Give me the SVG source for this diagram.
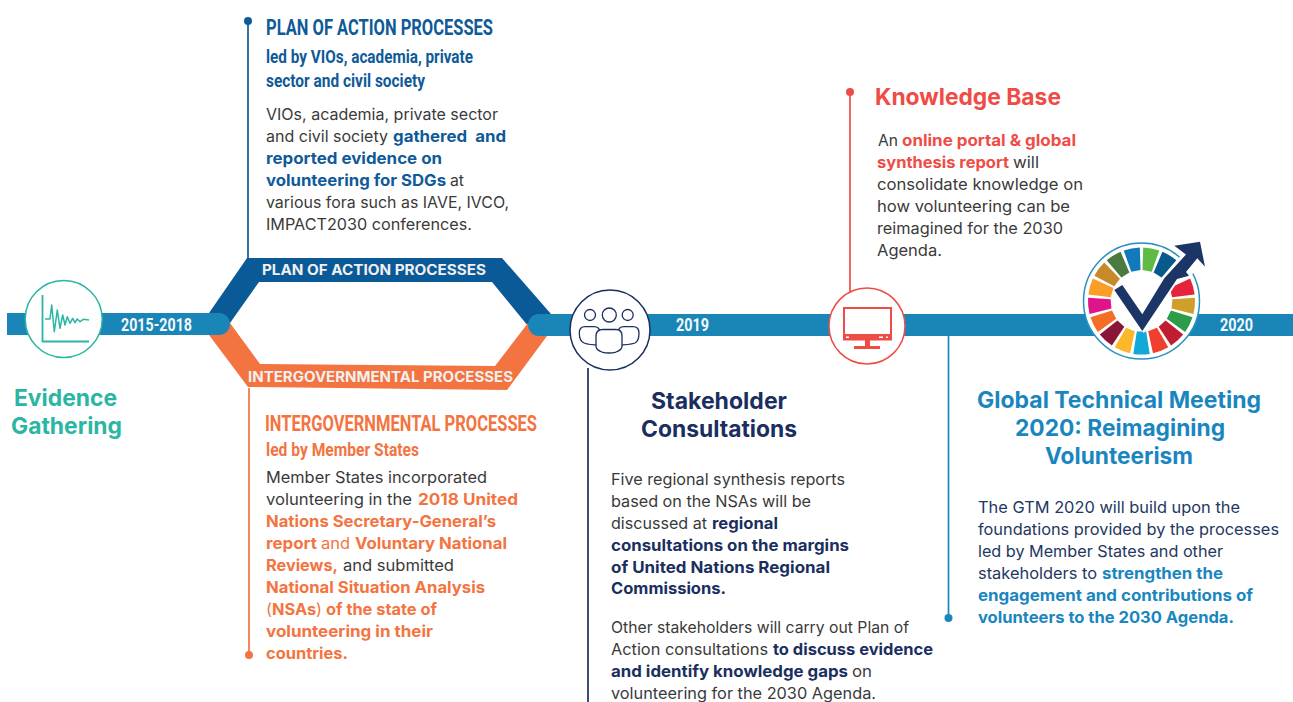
<svg xmlns="http://www.w3.org/2000/svg" width="1293" height="702" viewBox="0 0 1293 702">
<style>
text{font-family:"Inter","Open Sans","Liberation Sans",sans-serif}
.b{font-size:16px;fill:#3a3a3a;font-weight:400}
.gt{fill:#24375f}
.e{font-weight:700}
.cond{font-family:"Roboto","Liberation Sans",sans-serif;font-weight:700}
.bar{fill:#1a86b8}
.leader{fill:none;stroke-width:1.700}
.band{font-size:14px;font-weight:700;fill:#f0f0f0}
.yr{font-size:18px;fill:#f4f8fa}
.title{font-size:23px;font-weight:700}
.blue{fill:#0f5a98}.org{fill:#f37440}.teal{fill:#2bb6a3}.navy{fill:#1b2f5f}.red{fill:#ef4c46}.sky{fill:#1a86c0}
.ring{fill:#fff;stroke-width:1.500}
</style>
<defs><path id="w" d="M-8.200-52.900A53.500 53.500 0 0 1 8.200-52.900L4.700-30.600L-4.700-30.600Z"/></defs>

<g id="connectors">
<path class="leader" stroke="#0f5a98" d="M248 21V258"/><circle cx="248" cy="21" r="4" fill="#0f5a98"/>
<path class="leader" stroke="#f37440" d="M249 388V655"/><circle cx="249" cy="655" r="4" fill="#f37440"/>
<path class="leader" stroke="#1b2f5f" d="M588 368V702"/>
<path class="leader" stroke="#ef4c46" d="M850 92V292"/><circle cx="850" cy="92" r="4" fill="#ef4c46"/>
<path class="leader" stroke="#1a86c0" d="M948.500 336V618"/><circle cx="948.500" cy="618" r="4" fill="#1a86c0"/>
</g>

<g id="plan-band">
<path fill="#0b5a98" d="M209 313L247 258H502L551 314L528 326L492 282H259L230 323Z"/>
<text class="band" x="262" y="275" textLength="224" lengthAdjust="spacingAndGlyphs">PLAN OF ACTION PROCESSES</text>
</g>
<g id="intergov-band">
<path fill="#f37440" d="M209 335L248 387L507 390L547 336L528 323L495 366L260 364L230 323Z"/>
<text class="band" x="248" y="382" textLength="265" lengthAdjust="spacingAndGlyphs">INTERGOVERNMENTAL PROCESSES</text>
</g>

<g id="timeline">
<path class="bar" d="M7 313H219A11 11 0 0 1 219 335H7Z"/>
<path class="bar" d="M1293 314V336H539A11 11 0 0 1 539 314Z"/>
<text class="yr cond" x="121" y="331" textLength="71" lengthAdjust="spacingAndGlyphs">2015-2018</text>
<text class="yr cond" x="676" y="331" textLength="33" lengthAdjust="spacingAndGlyphs">2019</text>
<text class="yr cond" x="1220" y="331" textLength="33" lengthAdjust="spacingAndGlyphs">2020</text>
</g>

<g id="evidence-gathering">
<circle class="ring" cx="63.700" cy="319" r="38.500" stroke="#2bb6a3"/>
<path fill="none" stroke="#2bb6a3" stroke-width="1.800" d="M42.500 295V341.500H89"/>
<path fill="none" stroke="#2bb6a3" stroke-width="1.500" stroke-linejoin="round" d="M45 319H50L51.700 305L54.300 331.700L57.300 310L60 328.300L62.700 315L65 325L67.300 316.700L70 323.300L72.700 318.300L75 322.700L77.300 319L80 321.700L83.300 319.300L89 320"/>
<text class="title teal" x="14" y="406" textLength="103" lengthAdjust="spacingAndGlyphs">Evidence</text>
<text class="title teal" x="11" y="434" textLength="111" lengthAdjust="spacingAndGlyphs">Gathering</text>
</g>

<g id="plan-of-action">
<text class="cond blue" font-size="22" x="266" y="35" textLength="227" lengthAdjust="spacingAndGlyphs">PLAN OF ACTION PROCESSES</text>
<text class="cond blue" font-size="18" x="266" y="63" textLength="207" lengthAdjust="spacingAndGlyphs">led by VIOs, academia, private</text>
<text class="cond blue" font-size="18" x="266" y="87" textLength="159" lengthAdjust="spacingAndGlyphs">sector and civil society</text>
<text class="b" x="266" y="120" textLength="232" lengthAdjust="spacingAndGlyphs">VIOs, academia, private sector</text>
<text class="b" x="266" y="142" textLength="122" lengthAdjust="spacingAndGlyphs">and civil society</text>
<text class="b e blue" x="393" y="142" textLength="113" lengthAdjust="spacingAndGlyphs" xml:space="preserve">gathered  and</text>
<text class="b e blue" x="266" y="164" textLength="176" lengthAdjust="spacingAndGlyphs">reported evidence on</text>
<text class="b e blue" x="266" y="186" textLength="180" lengthAdjust="spacingAndGlyphs">volunteering for SDGs</text>
<text class="b" x="450" y="186" textLength="14" lengthAdjust="spacingAndGlyphs">at</text>
<text class="b" x="266" y="208" textLength="243" lengthAdjust="spacingAndGlyphs">various fora such as IAVE, IVCO,</text>
<text class="b" x="266" y="230" textLength="206" lengthAdjust="spacingAndGlyphs">IMPACT2030 conferences.</text>
</g>

<g id="intergovernmental">
<text class="cond org" font-size="22" x="265" y="431" textLength="272" lengthAdjust="spacingAndGlyphs">INTERGOVERNMENTAL PROCESSES</text>
<text class="cond org" font-size="18" x="266" y="456" textLength="153" lengthAdjust="spacingAndGlyphs">led by Member States</text>
<text class="b" x="266" y="483" textLength="221" lengthAdjust="spacingAndGlyphs">Member States incorporated</text>
<text class="b" x="266" y="505" textLength="146" lengthAdjust="spacingAndGlyphs">volunteering in the</text>
<text class="b e org" x="418" y="505" textLength="100" lengthAdjust="spacingAndGlyphs">2018 United</text>
<text class="b e org" x="266" y="527" textLength="230" lengthAdjust="spacingAndGlyphs">Nations Secretary-General’s</text>
<text class="b e org" x="266" y="549" textLength="51" lengthAdjust="spacingAndGlyphs">report</text>
<text class="b org" x="321" y="549" textLength="29" lengthAdjust="spacingAndGlyphs">and</text>
<text class="b e org" x="355" y="549" textLength="152" lengthAdjust="spacingAndGlyphs">Voluntary National</text>
<text class="b e org" x="266" y="571" textLength="72" lengthAdjust="spacingAndGlyphs">Reviews,</text>
<text class="b" x="343" y="571" textLength="111" lengthAdjust="spacingAndGlyphs">and submitted</text>
<text class="b e org" x="266" y="593" textLength="219" lengthAdjust="spacingAndGlyphs">National Situation Analysis</text>
<text class="b e org" x="266" y="615" textLength="171" lengthAdjust="spacingAndGlyphs"><tspan font-weight="400">(</tspan>NSAs<tspan font-weight="400">)</tspan> of the state of</text>
<text class="b e org" x="266" y="637" textLength="167" lengthAdjust="spacingAndGlyphs">volunteering in their</text>
<text class="b e org" x="266" y="659" textLength="82" lengthAdjust="spacingAndGlyphs">countries.</text>
</g>

<g id="stakeholder-consultations">
<circle class="ring" cx="610" cy="330" r="40" stroke="#1b2f5f"/>
<g fill="#fff" stroke="#1b2f5f" stroke-width="1.300">
<circle cx="590" cy="315" r="5.500"/><circle cx="609.300" cy="315" r="7"/><circle cx="627.700" cy="315" r="5.500"/>
<path d="M585 326.700H594Q600 326.700 600 333V345Q589 345 584 343Q579.300 341 579.300 333Q579.300 326.700 585 326.700Z"/>
<path d="M633 326.700H624Q618 326.700 618 333V345Q629 345 635 343Q639 341 639 333Q639 326.700 633 326.700Z"/>
<path d="M603 329.500H616Q622 329.500 622 336V346Q622 350 616 352Q609 354 602 352Q596 350 596 346V336Q596 329.500 603 329.500Z"/>
</g>
<text class="title navy" x="651" y="409" textLength="136" lengthAdjust="spacingAndGlyphs">Stakeholder</text>
<text class="title navy" x="641" y="437" textLength="156" lengthAdjust="spacingAndGlyphs">Consultations</text>
<text class="b" x="611" y="485" textLength="234" lengthAdjust="spacingAndGlyphs">Five regional synthesis reports</text>
<text class="b" x="611" y="507" textLength="200" lengthAdjust="spacingAndGlyphs">based on the NSAs will be</text>
<text class="b" x="611" y="529" textLength="96" lengthAdjust="spacingAndGlyphs">discussed at</text>
<text class="b e navy" x="712" y="529" textLength="66" lengthAdjust="spacingAndGlyphs">regional</text>
<text class="b e navy" x="611" y="551" textLength="238" lengthAdjust="spacingAndGlyphs">consultations on the margins</text>
<text class="b e navy" x="611" y="573" textLength="219" lengthAdjust="spacingAndGlyphs">of United Nations Regional</text>
<text class="b e navy" x="611" y="594" textLength="115" lengthAdjust="spacingAndGlyphs">Commissions.</text>
<text class="b" x="611" y="633" textLength="298" lengthAdjust="spacingAndGlyphs">Other stakeholders will carry out Plan of</text>
<text class="b" x="611" y="655" textLength="157" lengthAdjust="spacingAndGlyphs">Action consultations</text>
<text class="b e navy" x="773" y="655" textLength="160" lengthAdjust="spacingAndGlyphs">to discuss evidence</text>
<text class="b e navy" x="611" y="677" textLength="237" lengthAdjust="spacingAndGlyphs">and identify knowledge gaps</text>
<text class="b" x="852" y="677" textLength="20" lengthAdjust="spacingAndGlyphs">on</text>
<text class="b" x="611" y="699" textLength="265" lengthAdjust="spacingAndGlyphs">volunteering for the 2030 Agenda.</text>
</g>

<g id="knowledge-base">
<circle class="ring" cx="867" cy="326" r="38" stroke="#ef4c46"/>
<rect x="844" y="308" width="47" height="31.500" fill="#fff" stroke="#ef4c46" stroke-width="2"/>
<rect x="844" y="334" width="47" height="6" fill="#ef4c46"/>
<path fill="#ef4c46" d="M865 340H870V346H880V349H854V346H865Z"/>
<g fill="#fff"><rect x="846" y="336.500" width="3" height="1.500"/><rect x="879" y="336.500" width="4" height="1.500"/><rect x="886" y="336.500" width="2" height="1.500"/></g>
<text class="red" font-size="23" font-weight="700" x="875" y="105" textLength="186" lengthAdjust="spacingAndGlyphs">Knowledge Base</text>
<text class="b" x="878" y="146" textLength="20" lengthAdjust="spacingAndGlyphs">An</text>
<text class="b e red" x="902" y="146" textLength="174" lengthAdjust="spacingAndGlyphs">online portal &amp; global</text>
<text class="b e red" x="877" y="168" textLength="132" lengthAdjust="spacingAndGlyphs">synthesis report</text>
<text class="b" x="1013" y="168" textLength="26" lengthAdjust="spacingAndGlyphs">will</text>
<text class="b" x="877" y="190" textLength="206" lengthAdjust="spacingAndGlyphs">consolidate knowledge on</text>
<text class="b" x="877" y="212" textLength="193" lengthAdjust="spacingAndGlyphs">how volunteering can be</text>
<text class="b" x="877" y="234" textLength="186" lengthAdjust="spacingAndGlyphs">reimagined for the 2030</text>
<text class="b" x="877" y="256" textLength="65" lengthAdjust="spacingAndGlyphs">Agenda.</text>
</g>

<g id="global-technical-meeting">
<circle class="ring" cx="1141.500" cy="301" r="58" stroke="#2a90c0"/>
<g transform="translate(1141.500 301)">
<use href="#w" fill="#e5243b" transform="rotate(74.100)"/>
<use href="#w" fill="#cf9f2a" transform="rotate(95.300)"/>
<use href="#w" fill="#2c9b4a" transform="rotate(116.500)"/>
<use href="#w" fill="#bf1e32" transform="rotate(137.600)"/>
<use href="#w" fill="#ef402d" transform="rotate(158.800)"/>
<use href="#w" fill="#12a9d8" transform="rotate(180)"/>
<use href="#w" fill="#fdb72a" transform="rotate(201.200)"/>
<use href="#w" fill="#8a1538" transform="rotate(222.400)"/>
<use href="#w" fill="#f36d25" transform="rotate(243.500)"/>
<use href="#w" fill="#e0148a" transform="rotate(264.700)"/>
<use href="#w" fill="#fb9d26" transform="rotate(285.900)"/>
<use href="#w" fill="#c68a2a" transform="rotate(307.100)"/>
<use href="#w" fill="#4a7a3d" transform="rotate(328.200)"/>
<use href="#w" fill="#1279ba" transform="rotate(349.400)"/>
<use href="#w" fill="#5fbb46" transform="rotate(10.600)"/>
<use href="#w" fill="#065a8c" transform="rotate(31.800)"/>
</g>
<path fill="#fff" d="M1160 282L1185 250L1200 262L1190 278L1178 281L1144 333L1135 325Z"/>
<path fill="#1a3566" d="M1114.300 290L1122.300 285L1142.300 314.300L1164.300 278.300L1186 254.500L1174.300 245.700L1200 241.700L1205 266.700L1197.300 258.300L1186 272L1189 275.700L1177 279L1142.300 331Z"/>
<text class="title sky" x="977" y="408" textLength="284" lengthAdjust="spacingAndGlyphs">Global Technical Meeting</text>
<text class="title sky" x="1015" y="436" textLength="210" lengthAdjust="spacingAndGlyphs">2020: Reimagining</text>
<text class="title sky" x="1045" y="464" textLength="148" lengthAdjust="spacingAndGlyphs">Volunteerism</text>
<text class="b gt" x="978" y="513" textLength="262" lengthAdjust="spacingAndGlyphs">The GTM 2020 will build upon the</text>
<text class="b gt" x="978" y="535" textLength="301" lengthAdjust="spacingAndGlyphs">foundations provided by the processes</text>
<text class="b gt" x="978" y="557" textLength="245" lengthAdjust="spacingAndGlyphs">led by Member States and other</text>
<text class="b gt" x="978" y="579" textLength="119" lengthAdjust="spacingAndGlyphs">stakeholders to</text>
<text class="b e sky" x="1102" y="579" textLength="121" lengthAdjust="spacingAndGlyphs">strengthen the</text>
<text class="b e sky" x="978" y="601" textLength="275" lengthAdjust="spacingAndGlyphs">engagement and contributions of</text>
<text class="b e sky" x="978" y="623" textLength="256" lengthAdjust="spacingAndGlyphs">volunteers to the 2030 Agenda.</text>
</g>
</svg>
